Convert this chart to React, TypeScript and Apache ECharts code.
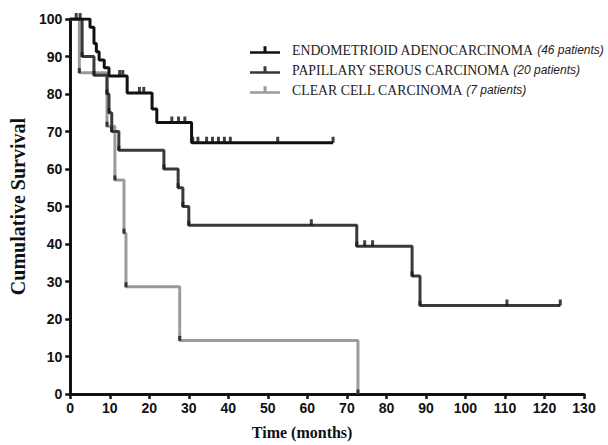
import React, { useEffect, useRef } from "react";
import * as echarts from "echarts";

// ---- data ----
const seriesNames = [
  "ENDOMETRIOID ADENOCARCINOMA",
  "PAPILLARY SEROUS CARCINOMA",
  "CLEAR CELL CARCINOMA",
];
const patientCounts = [46, 20, 7];

// Kaplan–Meier steps: [time (months), cumulative survival (%)]
const endometrioidSteps: number[][] = [
  [0, 100], [5, 97.8], [6, 93.5], [6.6, 91.3], [7.3, 89.1], [8.6, 87.0],
  [9.8, 84.8], [14.4, 80.3], [20.7, 76.0], [21.9, 72.4], [30.7, 67.0], [66.5, 67.0],
];
const papillarySteps: number[][] = [
  [0, 100], [3, 90], [6, 85], [9.3, 80], [9.8, 75], [10.5, 70], [12.3, 65],
  [23.7, 60], [27.3, 55], [28.5, 50], [30, 45], [72.5, 39.4], [86.5, 31.5],
  [88.5, 23.6], [124, 23.6],
];
const clearCellSteps: number[][] = [
  [0, 100], [2.3, 85.7], [9.3, 71.4], [11.3, 57.1], [13.6, 42.9], [14.1, 28.6],
  [27.7, 14.3], [72.8, 0],
];

// censored observations (months)
const endometrioidCensored = [
  1.5, 2.5, 12.5, 13.3, 17.5, 18.6, 25.7, 27.4, 29, 31, 32.3, 34.5, 36, 37.5, 39,
  40.5, 52.5, 66.5,
];
const papillaryCensored = [61, 74.5, 76.5, 110.5, 124];

const xTicks = { min: 0, max: 130, interval: 10 };
const yTicks = { min: 0, max: 100, interval: 10 };

const colors = ["#111111", "#3a3a3a", "#9a9a9a"];

function survivalAt(steps: number[][], t: number): number {
  let v = steps[0][1];
  for (const [x, y] of steps) {
    if (x <= t) v = y;
  }
  return v;
}

export default function App() {
  const ref = useRef<HTMLDivElement>(null);
  useEffect(() => {
    if (!ref.current) return;
    const chart = echarts.init(ref.current, undefined, { renderer: "svg" });

    const allSteps = [endometrioidSteps, papillarySteps, clearCellSteps];
    const lineZ = [5, 4, 3];

    const lineSeries = allSteps.map((steps, i) => ({
      name: seriesNames[i],
      type: "line",
      step: "end",
      data: steps,
      showSymbol: false,
      symbol: "none",
      z: lineZ[i],
      lineStyle: { color: colors[i], width: 3 },
      itemStyle: { color: colors[i] },
    }));

    const censorSeries = [
      { times: endometrioidCensored, steps: endometrioidSteps, idx: 0 },
      { times: papillaryCensored, steps: papillarySteps, idx: 1 },
    ].map((c) => ({
      type: "scatter",
      data: c.times.map((t) => [t, survivalAt(c.steps, t)]),
      symbol: "rect",
      symbolSize: [3, 6],
      symbolOffset: [0, -3],
      z: lineZ[c.idx] + 1,
      itemStyle: { color: colors[0] },
      silent: true,
    }));

    // black marks at the foot of each drop
    const eventMarks = [
      { steps: clearCellSteps, idx: 2 },
      { steps: papillarySteps, idx: 1 },
    ].map((c) => ({
      type: "scatter",
      data: c.steps.slice(1, c.steps.length - (c.idx === 1 ? 1 : 0)),
      symbol: "rect",
      symbolSize: [3, 5],
      symbolOffset: [0, -2],
      z: lineZ[c.idx] + 1,
      itemStyle: { color: "#1a1a1a" },
      silent: true,
    }));

    chart.setOption({
      animation: false,
      backgroundColor: "#ffffff",
      grid: { left: 68, right: 24, top: 19, bottom: 51 },
      legend: {
        data: seriesNames,
        orient: "vertical",
        left: 245,
        top: 38,
        itemWidth: 30,
        itemHeight: 9,
        itemGap: 6,
        icon: "path://M0,5h30v2.5H0z M13.5,0h3v6h-3z",
        formatter: (name: string) => {
          const i = seriesNames.indexOf(name);
          return `{n|${name}} {p|(${patientCounts[i]} patients)}`;
        },
        textStyle: {
          rich: {
            n: {
              fontFamily: "Liberation Serif",
              fontSize: 13.8,
              color: "#222",
              lineHeight: 15,
              padding: [0, 0, 0, 7],
            },
            p: {
              fontFamily: "Liberation Sans",
              fontStyle: "italic",
              fontSize: 12,
              color: "#222",
              lineHeight: 15,
            },
          },
        },
      },
      xAxis: {
        type: "value",
        min: xTicks.min,
        max: xTicks.max,
        interval: xTicks.interval,
        name: "Time (months)",
        nameLocation: "middle",
        nameGap: 30,
        nameTextStyle: {
          fontFamily: "Liberation Serif",
          fontWeight: "bold",
          fontSize: 16,
          color: "#111",
          padding: [0, 50, 0, 0],
        },
        axisLine: { lineStyle: { color: "#111", width: 3 } },
        axisTick: { show: true, length: 5, lineStyle: { color: "#111", width: 2.5 } },
        axisLabel: {
          margin: 7,
          fontFamily: "Liberation Sans",
          fontWeight: "bold",
          fontSize: 14,
          color: "#111",
        },
        splitLine: { show: false },
      },
      yAxis: {
        type: "value",
        min: yTicks.min,
        max: yTicks.max,
        interval: yTicks.interval,
        name: "Cumulative Survival",
        nameLocation: "middle",
        nameGap: 41,
        nameTextStyle: {
          fontFamily: "Liberation Serif",
          fontWeight: "bold",
          fontSize: 20,
          color: "#111",
        },
        axisLine: { show: true, lineStyle: { color: "#111", width: 3 } },
        axisTick: { show: true, length: 5, lineStyle: { color: "#111", width: 2.5 } },
        axisLabel: {
          margin: 8,
          fontFamily: "Liberation Sans",
          fontWeight: "bold",
          fontSize: 14,
          color: "#111",
        },
        splitLine: { show: false },
      },
      series: [...lineSeries, ...censorSeries, ...eventMarks],
    });
    return () => chart.dispose();
  }, []);
  return (
    <div
      ref={ref}
      style={{ position: "fixed", left: 0, top: 0, width: 608, height: 445 }}
    />
  );
}
